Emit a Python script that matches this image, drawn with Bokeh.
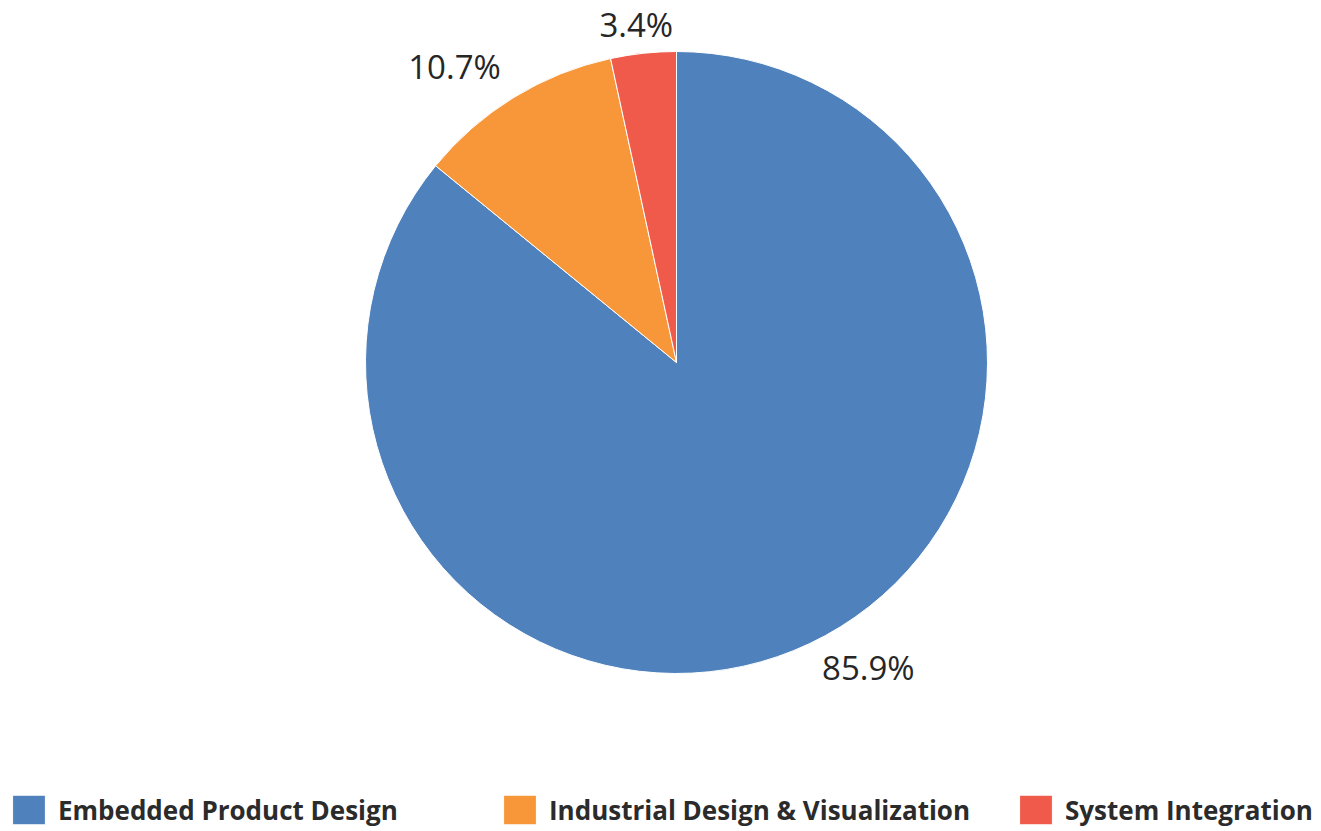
import numpy as np
from bokeh.plotting import figure
from bokeh.models import Range1d, ColumnDataSource, Legend, LegendItem
from bokeh.core.properties import value
from bokeh.embed import file_html
from bokeh.resources import INLINE

categories = ["Embedded Product Design", "Industrial Design & Visualization", "System Integration"]
shares = [85.9, 10.7, 3.4]
palette = ["#4F81BD", "#F8973A", "#F05A4A"]

W, H = 1321, 831
p = figure(width=W, height=H, output_backend="svg", toolbar_location=None,
           x_range=Range1d(0, W), y_range=Range1d(0, H),
           x_axis_location=None, y_axis_location=None, min_border=0,
           outline_line_color=None)
p.grid.visible = False

cx, cy, R = 676, H - 362, 311
frac = np.array(shares) / sum(shares)
cum = np.concatenate([[0], np.cumsum(frac)[:-1]])
start = np.pi / 2 - 2 * np.pi * cum
end = start - 2 * np.pi * frac

src = ColumnDataSource(dict(cat=categories, start=start, end=end, color=palette,
                            x=[cx] * 3, y=[cy] * 3))
r = p.wedge(x="x", y="y", radius=R, radius_units="screen", start_angle="start", end_angle="end",
            direction="clock", fill_color="color", line_color="white", line_width=1, source=src)

mid = (start + end) / 2
gap = 10
lx, ly, al, bl = [], [], [], []
for m in mid:
    c, s = np.cos(m), np.sin(m)
    x0 = cx + (R + gap) * c
    y0 = cy + (R + gap) * s
    if c > 0.3:
        al.append("left"); x0 += 8
    elif c < -0.3:
        al.append("right"); x0 -= 8
    else:
        al.append("center"); x0 -= 6; y0 -= 4
    if s < 0:
        bl.append("top"); y0 += 8
    else:
        bl.append("bottom")
    lx.append(x0); ly.append(y0)

labels = [f"{v:.1f}%" for v in shares]
p.text(x=lx, y=ly, text=labels, text_align=al, text_baseline=bl,
       text_font=value("Open Sans"), text_font_size="33px", text_color="#262626")

legend_x = [8, 499, 1015]
for i in range(3):
    lg = Legend(items=[LegendItem(label=categories[i], renderers=[r], index=i)],
                orientation="horizontal", location=(legend_x[i], 3),
                glyph_width=41, glyph_height=37, label_standoff=9, spacing=0,
                padding=0, margin=0, border_line_color=None, background_fill_alpha=0,
                label_text_font="Open Sans", label_text_font_style="bold",
                label_text_font_size="26px", label_text_color="#2b2b2b")
    p.add_layout(lg)

open("out.html", "w").write(file_html(p, INLINE))
